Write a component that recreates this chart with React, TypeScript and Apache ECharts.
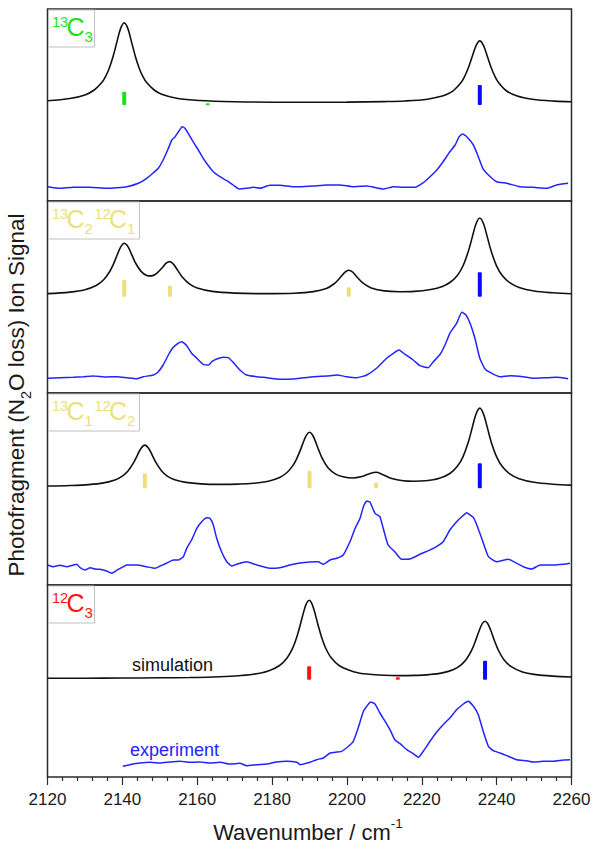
import React, { useEffect, useRef } from "react";
import * as echarts from "echarts";

// ---------- data (wavenumber / cm-1, intensity in arbitrary units; panel height = 192) ----------
const xTickLabels = [2120, 2140, 2160, 2180, 2200, 2220, 2240, 2260];

// 13C3
const sim13C3 = [[2120,100.3],[2126,102.5],[2130,106.1],[2132.5,111.0],[2134.5,118.4],[2135.5,124.4],[2136.5,132.8],[2137.5,144.2],[2138.5,158.4],[2139.5,172.1],[2140.5,178.1],[2141.5,172.1],[2142.5,158.4],[2143.5,144.2],[2144.5,132.8],[2145.5,124.4],[2146.5,118.4],[2148.5,111.0],[2150.5,106.8],[2154.5,102.8],[2160.5,100.5],[2170,99.3],[2185,98.8],[2200,98.9],[2210,99.4],[2215.5,100.0],[2221.5,101.8],[2225.5,104.9],[2227.5,108.1],[2228.5,110.5],[2230.5,118.5],[2231.5,125.0],[2232.5,133.8],[2233.5,144.8],[2234.5,155.4],[2235.5,160.1],[2236.5,155.4],[2237.5,144.8],[2238.5,133.8],[2239.5,125.0],[2240.5,118.5],[2242.5,110.5],[2245.5,104.9],[2249.5,101.8],[2255.5,99.9],[2260,99.3]];
const exp13C3 = [[2120.0,14.3],[2123.3,12.7],[2126.9,13.7],[2131.4,13.7],[2135.8,12.7],[2138.5,13.3],[2141.2,14.3],[2144.3,17.7],[2146.5,22.7],[2148.3,28.3],[2149.6,32.7],[2150.9,41.0],[2152.3,52.7],[2153.2,61.0],[2154.1,64.3],[2155.0,69.3],[2156.0,74.3],[2156.7,72.7],[2157.6,67.7],[2158.9,59.3],[2160.3,51.0],[2161.6,42.7],[2163.0,35.3],[2164.3,29.3],[2166.1,24.3],[2167.9,20.3],[2169.6,16.0],[2171.2,12.0],[2173.2,12.7],[2175.0,13.7],[2176.8,12.7],[2179.4,15.7],[2182.1,15.7],[2185.7,14.3],[2187.5,14.3],[2191.0,15.0],[2194.6,16.0],[2198.1,16.0],[2201.7,14.3],[2205.3,15.0],[2209.7,12.0],[2212.4,14.3],[2215.1,13.7],[2218.2,13.7],[2220.4,18.3],[2222.2,24.3],[2224.0,31.0],[2225.7,39.3],[2227.5,49.3],[2228.9,56.0],[2230.0,64.3],[2230.9,67.0],[2232.0,64.3],[2233.8,56.0],[2235.1,44.3],[2236.3,32.7],[2237.8,26.0],[2240.0,19.3],[2242.7,17.7],[2246.2,14.3],[2249.8,13.7],[2253.4,12.7],[2256.0,16.0],[2259.1,17.7]];
const sticks13C3Green = [[2140.5,96,109.3],[2162.8,96,97.7]];
const sticks13C3Blue = [[2235.5,96,116]];

// 13C2 12C1
const sim13C2 = [[2120,99.4],[2126,100.9],[2130,103.3],[2133,107.5],[2135,113.2],[2136.5,120.7],[2137.5,127.9],[2138.5,137.0],[2139.5,145.7],[2140.5,149.8],[2141.5,146.4],[2142.5,138.4],[2143.5,130.1],[2145,121.6],[2146.5,117.6],[2147.8,117.1],[2149,119.1],[2150.7,125.5],[2151.7,129.8],[2152.7,131.4],[2153.7,128.6],[2154.7,123.1],[2156,115.9],[2158,108.8],[2160,105.0],[2164,101.6],[2170,99.9],[2178,99.35],[2186,99.8],[2191,101.4],[2194.5,104.6],[2196.5,109.0],[2198,114.5],[2199.5,120.9],[2200.5,122.8],[2201.5,121.0],[2203,114.7],[2204.5,109.3],[2206.5,105.1],[2210,102.1],[2214,101.3],[2218,101.6],[2222,103.2],[2225.5,106.6],[2227.5,110.5],[2229.5,117.6],[2231,127.0],[2232.5,142.4],[2233.5,156.1],[2234.5,169.2],[2235.5,175.0],[2236.5,169.2],[2237.5,156.1],[2238.5,142.4],[2240,126.9],[2241.5,117.5],[2243.5,110.3],[2246,105.5],[2250,102.0],[2255,100.2],[2260,99.3]];
const exp13C2 = [[2120.0,14.7],[2123.3,15.3],[2126.9,15.7],[2129.6,16.3],[2132.2,17.0],[2135.8,16.0],[2138.5,16.3],[2141.2,15.3],[2143.8,14.3],[2145.6,16.3],[2148.3,18.0],[2149.6,21.3],[2150.9,28.0],[2152.3,38.0],[2153.4,44.7],[2154.5,48.7],[2155.9,51.3],[2157.2,47.3],[2158.5,39.7],[2159.9,34.7],[2161.6,28.7],[2163.0,28.0],[2163.9,31.3],[2165.2,34.0],[2167.0,35.7],[2168.3,35.3],[2169.6,30.7],[2171.4,23.0],[2173.2,18.0],[2175.9,16.3],[2178.6,15.3],[2182.1,13.7],[2185.7,14.0],[2187.5,14.7],[2191.0,16.3],[2194.6,17.0],[2197.3,18.0],[2199.9,16.3],[2202.6,15.3],[2205.3,18.0],[2207.9,24.7],[2210.6,34.7],[2212.4,39.7],[2213.9,43.0],[2215.5,38.7],[2217.7,33.0],[2219.5,27.3],[2221.7,25.3],[2223.1,31.3],[2224.9,38.7],[2226.2,48.0],[2227.5,59.7],[2229.3,69.7],[2230.7,80.7],[2231.8,78.0],[2232.9,69.7],[2234.2,54.7],[2235.5,34.7],[2236.9,24.0],[2238.7,19.7],[2240.9,16.3],[2243.6,17.3],[2247.1,16.3],[2249.8,14.7],[2253.4,15.3],[2256.0,15.7],[2259.1,14.3]];
const sticks13C2Yellow = [[2140.5,96.3,113],[2152.7,96.3,107.3],[2200.5,96.3,105.7]];
const sticks13C2Blue = [[2235.5,96.3,120.7]];

// 13C1 12C2
const sim13C1 = [[2120,99.0],[2126,99.5],[2131,100.4],[2135,102.1],[2138,105.0],[2140,108.9],[2141.5,114.0],[2143,122.3],[2144,129.7],[2145,136.8],[2146,139.9],[2147,136.8],[2148,129.7],[2149,122.3],[2150.5,114.0],[2152,108.9],[2154,105.3],[2157,102.6],[2161,101.1],[2166,100.6],[2171,100.9],[2175,101.7],[2179,103.8],[2182,107.5],[2184,112.5],[2185.5,119.1],[2186.5,125.7],[2187.5,134.4],[2188.5,144.3],[2189.2,149.9],[2190,152.7],[2190.8,150.0],[2191.5,144.4],[2192.5,134.6],[2193.5,126.0],[2195,117.0],[2197,110.9],[2199,108.2],[2201.5,107.0],[2204,108.5],[2206,111.3],[2207.8,112.7],[2209.5,110.6],[2212,106.5],[2215,104.3],[2218,103.8],[2221,104.2],[2224.5,106.4],[2227.5,111.5],[2229.5,118.7],[2231,128.2],[2232.5,143.7],[2233.5,157.7],[2234.5,171.0],[2235.5,176.9],[2236.5,170.9],[2237.5,157.6],[2238.5,143.6],[2240,128.1],[2241.5,118.4],[2243.5,111.1],[2246,106.3],[2250,102.7],[2255,100.8],[2260,99.9]];
const exp13C1 = [[2120.0,20.0],[2121.5,18.3],[2123.3,19.7],[2125.1,18.3],[2126.9,20.0],[2127.8,20.7],[2128.7,17.3],[2130.0,15.0],[2131.4,17.3],[2132.7,16.0],[2134.0,15.7],[2135.8,14.0],[2137.2,11.7],[2138.5,14.7],[2140.3,18.3],[2141.2,20.0],[2143.8,20.0],[2146.5,18.3],[2148.7,16.7],[2150.1,19.0],[2151.8,21.7],[2153.6,25.0],[2154.9,25.0],[2156.3,28.3],[2157.2,36.7],[2158.5,45.0],[2159.9,56.7],[2161.2,63.3],[2162.5,67.3],[2163.4,66.7],[2164.3,60.0],[2165.2,46.7],[2166.5,33.3],[2167.9,23.3],[2169.2,19.0],[2170.5,20.7],[2173.2,23.3],[2175.9,20.0],[2179.4,16.7],[2182.1,17.3],[2184.8,20.0],[2187.5,22.0],[2190.1,23.0],[2192.3,23.3],[2193.7,20.7],[2195.5,25.0],[2197.3,26.7],[2199.0,30.0],[2200.8,43.3],[2202.2,56.7],[2203.5,66.7],[2204.4,78.3],[2205.3,84.0],[2206.2,82.7],[2207.5,71.7],[2208.8,68.3],[2209.7,56.7],[2211.0,40.0],[2212.8,33.3],[2214.6,25.7],[2216.8,26.0],[2219.5,30.7],[2223.1,36.7],[2225.7,43.3],[2227.5,55.0],[2229.3,63.3],[2230.9,69.0],[2232.0,72.3],[2232.9,70.0],[2233.8,67.3],[2234.7,60.0],[2236.0,46.7],[2237.8,28.3],[2240.0,23.3],[2243.1,25.7],[2245.4,21.7],[2247.1,18.3],[2249.4,16.0],[2251.6,20.0],[2255.1,20.0],[2257.8,20.7],[2259.6,21.7]];
const sticks13C1Yellow = [[2146.0,96.7,111.7],[2190.0,96.7,114],[2207.8,96.7,102.3]];
const sticks13C1Blue = [[2235.5,96.7,121.7]];

// 12C3
const sim12C3 = [[2120,98.75],[2130,98.8],[2140,98.95],[2150,99.2],[2158,99.5],[2164,100.0],[2170,101.0],[2175,102.75],[2179,106.0],[2182,111.5],[2184,119.0],[2185.5,128.9],[2186.5,138.8],[2187.5,151.7],[2188.5,165.9],[2189.2,173.6],[2189.9,176.7],[2190.6,173.7],[2191.3,166.0],[2192.3,151.8],[2193.3,138.9],[2194.3,129.0],[2195.8,119.2],[2198,111.25],[2202,105.1],[2206,102.7],[2210,101.7],[2214,101.4],[2218,101.6],[2222,102.4],[2225.5,104.1],[2228.5,107.5],[2230.5,112.2],[2232,118.2],[2233.4,127.4],[2234.4,136.6],[2235.4,147.0],[2236.2,153.6],[2236.9,155.75],[2237.6,153.55],[2238.4,146.95],[2239.4,136.55],[2240.4,127.3],[2241.9,117.6],[2243.9,110.3],[2246.9,105.0],[2250,102.6],[2255,100.85],[2260,100.05]];
const exp12C3 = [[2140.1,10.7],[2142.0,12.3],[2144.7,14.0],[2147.4,14.7],[2150.1,14.0],[2152.7,15.0],[2155.4,15.7],[2158.1,14.7],[2160.7,15.0],[2163.4,14.0],[2166.1,14.7],[2168.8,13.0],[2171.4,13.7],[2173.2,11.3],[2175.9,12.3],[2178.6,13.0],[2181.2,15.0],[2183.9,15.7],[2186.6,14.7],[2187.5,12.3],[2190.1,14.7],[2191.9,17.3],[2193.7,19.0],[2195.5,24.0],[2197.3,25.0],[2198.6,25.7],[2200.4,30.7],[2201.7,35.7],[2203.0,49.0],[2204.4,65.7],[2205.3,70.7],[2206.3,75.0],[2207.5,73.0],[2208.8,64.0],[2210.2,55.7],[2211.5,47.3],[2212.8,37.3],[2214.2,33.3],[2216.0,27.3],[2217.7,23.3],[2219.1,19.7],[2220.4,25.7],[2222.2,35.7],[2224.0,45.0],[2225.7,52.3],[2227.5,59.0],[2229.3,67.3],[2231.1,73.0],[2232.4,75.7],[2233.8,70.7],[2235.1,62.3],[2236.4,45.7],[2237.8,30.7],[2239.1,26.3],[2240.9,24.0],[2243.1,20.7],[2245.4,17.3],[2248.0,16.3],[2249.8,15.0],[2252.5,15.7],[2255.1,15.7],[2257.8,17.0],[2259.6,17.3]];
const sticks12C3Red = [[2189.9,97.3,110.7],[2213.6,97.3,99.7]];
const sticks12C3Blue = [[2236.9,97.3,116.3]];

// panel labels: [mass number, element, count]
const label13C3 = [["13", "C", "3"]];
const label13C2 = [["13", "C", "2"], ["12", "C", "1"]];
const label13C1 = [["13", "C", "1"], ["12", "C", "2"]];
const label12C3 = [["12", "C", "3"]];

// ---------- styles ----------
const FONT = "'Liberation Sans', Arial, Helvetica, sans-serif";
const GREEN = "#1fe01f";
const YELLOW = "#ede07a";
const RED = "#ff1414";
const BLUE = "#0a0aff";
const EXPBLUE = "#2323ff";
const FRAME = "#2b2b2b";

const panels = [
  { sim: sim13C3, exp: exp13C3, sticks: [[sticks13C3Green, GREEN], [sticks13C3Blue, BLUE]], label: label13C3, color: GREEN },
  { sim: sim13C2, exp: exp13C2, sticks: [[sticks13C2Yellow, YELLOW], [sticks13C2Blue, BLUE]], label: label13C2, color: YELLOW },
  { sim: sim13C1, exp: exp13C1, sticks: [[sticks13C1Yellow, YELLOW], [sticks13C1Blue, BLUE]], label: label13C1, color: YELLOW },
  { sim: sim12C3, exp: exp12C3, sticks: [[sticks12C3Red, RED], [sticks12C3Blue, BLUE]], label: label12C3, color: RED },
];

const PANEL_TOP = 9;
const PANEL_H = 192;
const LEFT = 47.5;
const WIDTH = 524;

function buildOption() {
  const grids: any[] = [];
  const xAxes: any[] = [];
  const yAxes: any[] = [];
  const series: any[] = [];
  const graphics: any[] = [];

  panels.forEach((p, i) => {
    const top = PANEL_TOP + PANEL_H * i;
    const isBottom = i === panels.length - 1;
    grids.push({
      left: LEFT, top, width: WIDTH, height: PANEL_H, show: true, borderColor: FRAME, borderWidth: 1.5,
      backgroundColor: "transparent", containLabel: false, outerBoundsMode: "none",
    });
    xAxes.push({
      gridIndex: i, type: "value", min: xTickLabels[0], max: xTickLabels[xTickLabels.length - 1], interval: 20,
      show: isBottom,
      axisLine: { show: false },
      splitLine: { show: false },
      axisTick: { show: true, inside: false, length: 8, lineStyle: { color: FRAME, width: 1.2 } },
      minorTick: { show: true, splitNumber: 5, length: 4, lineStyle: { color: FRAME, width: 1.2 } },
      minorSplitLine: { show: false },
      axisLabel: {
        show: isBottom, margin: 14, fontSize: 17, color: "#1a1a1a", fontFamily: FONT,
        formatter: (v: number) => String(v),
      },
    });
    yAxes.push({ gridIndex: i, type: "value", min: 0, max: PANEL_H, show: false });

    series.push({
      type: "line", xAxisIndex: i, yAxisIndex: i, data: p.sim, symbol: "none", smooth: 0.35,
      lineStyle: { color: "#111111", width: 1.6 }, silent: true, z: 3,
    });
    series.push({
      type: "line", xAxisIndex: i, yAxisIndex: i, data: p.exp, symbol: "none", smooth: 0.15,
      lineStyle: { color: EXPBLUE, width: 1.5 }, silent: true, z: 3,
    });
    p.sticks.forEach(([data, color]: any) => {
      series.push({
        type: "custom", xAxisIndex: i, yAxisIndex: i, data, silent: true, z: 4,
        encode: { x: 0, y: [1, 2] },
        renderItem: (_params: any, api: any) => {
          const x = api.value(0);
          const p0 = api.coord([x, api.value(1)]);
          const p1 = api.coord([x, api.value(2)]);
          return {
            type: "rect",
            shape: { x: p0[0] - 2, y: p1[1], width: 4, height: Math.max(2, p0[1] - p1[1]), r: 1 },
            style: { fill: color },
          };
        },
      });
    });

    // label box
    const groups = p.label;
    const boxW = groups.length === 1 ? 46 : 91;
    graphics.push({
      type: "rect", x: 48.5, y: top + 1, z: 100,
      shape: { x: 0, y: 0, width: boxW, height: 37 },
      style: { fill: "#ffffff", stroke: "#c2c2c2", lineWidth: 1 },
    });
    groups.forEach((g: string[], gi: number) => {
      const x0 = gi === 0 ? 52 : 94.5;
      const xs = [x0, x0 + 14.5, x0 + 32.5];
      const ys = [top + 12.5, top + 18.2, top + 27];
      const sizes = [14.5, 25, 15];
      g.forEach((t, k) => {
        graphics.push({
          type: "text", x: xs[k], y: ys[k], z: 101,
          style: { text: t, fontSize: sizes[k], fontFamily: FONT, fill: p.color, align: "left", verticalAlign: "middle", textAlign: "left", textVerticalAlign: "middle" },
        });
      });
    });
  });

  const bottomTop = PANEL_TOP + PANEL_H * 3;
  graphics.push({
    type: "text", x: 132, y: bottomTop + 80, z: 101,
    style: { text: "simulation", fontSize: 18, fontFamily: FONT, fill: "#111111", align: "left", verticalAlign: "middle", textAlign: "left", textVerticalAlign: "middle" },
  });
  graphics.push({
    type: "text", x: 130, y: bottomTop + 165, z: 101,
    style: { text: "experiment", fontSize: 18, fontFamily: FONT, fill: EXPBLUE, align: "left", verticalAlign: "middle", textAlign: "left", textVerticalAlign: "middle" },
  });

  // x-axis title
  graphics.push({
    type: "text", x: 308, y: 830, z: 101,
    style: {
      text: "{a|Wavenumber / cm}{b|-1}",
      rich: {
        a: { fontSize: 22, fontFamily: FONT, fill: "#1a1a1a", lineHeight: 27, verticalAlign: "bottom" },
        b: { fontSize: 13.5, fontFamily: FONT, fill: "#1a1a1a", lineHeight: 27, verticalAlign: "top" },
      },
      align: "center", verticalAlign: "middle", textAlign: "center", textVerticalAlign: "middle",
    },
  });

  // y-axis title (rotated)
  graphics.push({
    type: "text", x: 19, y: 395, rotation: Math.PI / 2, z: 101,
    style: {
      text: "{a|Photofragment (N}{s|2}{a|O loss) Ion Signal}",
      rich: {
        a: { fontSize: 22.5, fontFamily: FONT, fill: "#1a1a1a", lineHeight: 29, verticalAlign: "top" },
        s: { fontSize: 14.5, fontFamily: FONT, fill: "#1a1a1a", lineHeight: 29, verticalAlign: "bottom" },
      },
      align: "center", verticalAlign: "middle", textAlign: "center", textVerticalAlign: "middle",
    },
  });

  return {
    animation: false,
    backgroundColor: "#ffffff",
    grid: grids,
    xAxis: xAxes,
    yAxis: yAxes,
    series,
    graphic: graphics,
  };
}

export default function App() {
  const ref = useRef<HTMLDivElement>(null);
  useEffect(() => {
    if (!ref.current) return;
    const chart = echarts.init(ref.current, null, { renderer: "svg" });
    chart.setOption(buildOption() as any);
    return () => chart.dispose();
  }, []);
  return <div ref={ref} style={{ position: "fixed", left: 0, top: 0, width: 593, height: 847, background: "#fff" }} />;
}
